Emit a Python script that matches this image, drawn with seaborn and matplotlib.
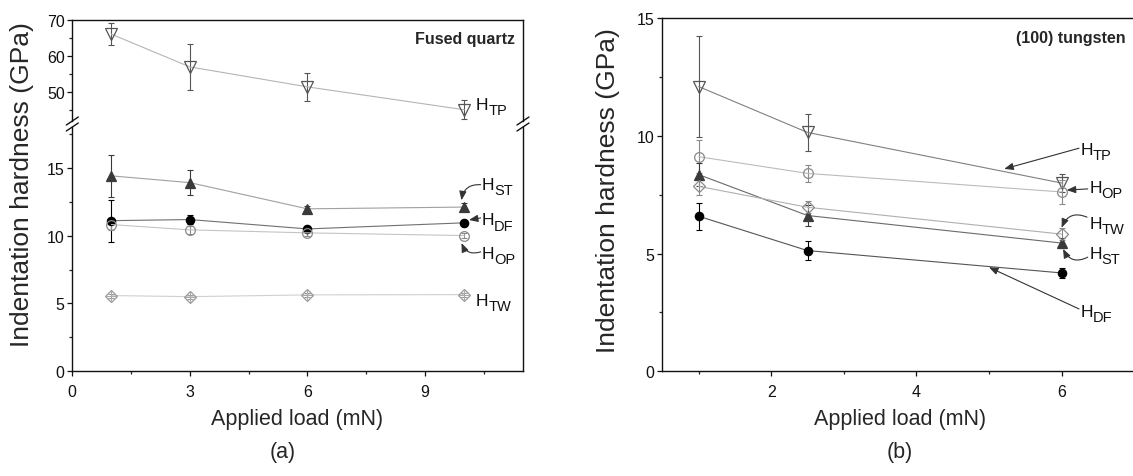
import numpy as np
import pandas as pd
import matplotlib
matplotlib.use("Agg")
import matplotlib.pyplot as plt
from matplotlib.ticker import MultipleLocator
from matplotlib.lines import Line2D
import seaborn as sns

sns.set_theme(style="ticks")
plt.rcParams['font.family'] = ['Liberation Sans', 'DejaVu Sans']
plt.rcParams['axes.linewidth'] = 1.0

# (a) fused quartz
load_a = [1, 3, 6, 10]
htp_a = [66.0, 57.0, 51.5, 45.2]
htp_a_err = [3.0, 6.4, 3.8, 2.6]
hst_a = [14.4, 13.9, 11.97, 12.1]
hst_a_err = [1.55, 0.9, 0.2, 0.3]
hdf_a = [11.1, 11.18, 10.49, 10.94]
hdf_a_err = [1.55, 0.3, 0.2, 0.2]
hop_a = [10.81, 10.42, 10.2, 10.0]
hop_a_err = [0.4, 0.3, 0.2, 0.2]
htw_a = [5.58, 5.5, 5.63, 5.65]
htw_a_err = [0.15, 0.15, 0.15, 0.15]

# (b) (100) tungsten
load_b = [1, 2.5, 6]
htp_b = [12.1, 10.15, 8.0]
htp_b_err = [2.15, 0.8, 0.4]
hop_b = [9.12, 8.41, 7.62]
hop_b_err = [0.7, 0.35, 0.5]
hst_b = [8.36, 6.62, 5.45]
hst_b_err = [0.5, 0.45, 0.2]
htw_b = [7.86, 6.97, 5.83]
htw_b_err = [0.35, 0.25, 0.25]
hdf_b = [6.59, 5.13, 4.18]
hdf_b_err = [0.58, 0.4, 0.22]

W, H = 1133, 477


def box(l, t, r, b):
    # pixel box -> figure fraction
    return [l / W, 1 - b / H, (r - l) / W, (b - t) / H]


def draw(ax, x, y, err, marker, mfc, mec, lc, ms):
    sns.lineplot(x=x, y=y, ax=ax, color=lc, lw=0.8, marker=marker,
                 markersize=ms, markerfacecolor=mfc, markeredgecolor=mec,
                 markeredgewidth=0.9, zorder=3)
    ax.errorbar(x, y, yerr=err, fmt='none', ecolor=mec, elinewidth=0.8,
                capsize=2.2, capthick=0.8, zorder=2)


def style(ax):
    ax.tick_params(which='major', direction='out', length=3.5, width=0.9,
                   labelsize=11.5, pad=2, colors='#111111')
    ax.tick_params(which='minor', direction='out', length=2.2, width=0.9)
    ax.tick_params(axis='x', pad=6)
    for s in ax.spines.values():
        s.set_color('#111111')
    ax.set_xlabel('')
    ax.set_ylabel('')


def hlabel(ax, x, y, sub):
    # H with a large subscript, as in the original figure
    ax.text(x, y, 'H', fontsize=12.5, va='center', ha='left', color='#111111')
    ax.annotate(sub, xy=(x, y), xytext=(8.8, -4.0), textcoords='offset points',
                fontsize=10.5, va='center', ha='left', color='#111111')


fig = plt.figure(figsize=(W / 100, H / 100), dpi=100)

# ---- panel (a) with broken axis
ax_top = fig.add_axes(box(72.3, 20.7, 523, 122))
ax_bot = fig.add_axes(box(72.3, 128, 523, 372.3))

draw(ax_top, load_a, htp_a, htp_a_err, 'v', 'none', '#555555', '#b5b5b5', 8)
draw(ax_bot, load_a, hst_a, hst_a_err, '^', '#3a3a3a', '#3a3a3a', '#a0a0a0', 7)
draw(ax_bot, load_a, hdf_a, hdf_a_err, 'o', '#000000', '#000000', '#707070', 6)
draw(ax_bot, load_a, hop_a, hop_a_err, 'o', 'none', '#8a8a8a', '#c4c4c4', 7)
draw(ax_bot, load_a, htw_a, htw_a_err, 'D', 'none', '#9a9a9a', '#d0d0d0', 6.5)
ax_bot.plot(load_a, htw_a, ls='none', marker='+', ms=8, mew=0.7, color='#a8a8a8', zorder=3)

for ax in (ax_top, ax_bot):
    ax.set_xlim(0, 11.5)
    style(ax)
ax_top.set_ylim(42.1, 70)
ax_bot.set_ylim(0, 18.0)
ax_top.yaxis.set_major_locator(MultipleLocator(10))
ax_top.yaxis.set_minor_locator(MultipleLocator(5))
ax_bot.yaxis.set_major_locator(MultipleLocator(5))
ax_bot.yaxis.set_minor_locator(MultipleLocator(2.5))
ax_bot.xaxis.set_major_locator(MultipleLocator(3))
ax_bot.xaxis.set_minor_locator(MultipleLocator(1.5))
ax_top.spines['bottom'].set_visible(False)
ax_bot.spines['top'].set_visible(False)
ax_top.tick_params(axis='x', which='both', bottom=False, labelbottom=False)

# break marks
for px in (72.3, 523):
    for py in (122, 128):
        fig.add_artist(Line2D([(px - 6) / W, (px + 6) / W],
                              [1 - (py + 4) / H, 1 - (py - 4) / H],
                              color='#111111', lw=1.0))

ax_top.text(0.982, 0.81, 'Fused quartz', transform=ax_top.transAxes,
            ha='right', va='center', fontsize=11.5, fontweight='bold')

arw = dict(arrowstyle='-|>,head_length=0.45,head_width=0.18', color='#333333',
           lw=0.8, shrinkA=0, shrinkB=0)
hlabel(ax_top, 10.3, 46.6, 'TP')
hlabel(ax_bot, 10.45, 13.75, 'ST')
hlabel(ax_bot, 10.45, 11.15, 'DF')
hlabel(ax_bot, 10.45, 8.7, 'OP')
hlabel(ax_bot, 10.3, 5.25, 'TW')
ax_bot.annotate('', xy=(9.93, 12.6), xytext=(10.42, 13.75),
                arrowprops=dict(connectionstyle='arc3,rad=0.45', **arw))
ax_bot.annotate('', xy=(10.12, 11.15), xytext=(10.42, 11.3),
                arrowprops=dict(connectionstyle='arc3,rad=0', **arw))
ax_bot.annotate('', xy=(9.93, 9.45), xytext=(10.42, 8.8),
                arrowprops=dict(connectionstyle='arc3,rad=-0.45', **arw))

fig.text(22 / W, 1 - 185 / H, 'Indentation hardness (GPa)', rotation=90,
         ha='center', va='center', fontsize=19)
fig.text(297 / W, 1 - 420 / H, 'Applied load (mN)', ha='center', va='center', fontsize=15.5)
fig.text(283 / W, 1 - 453 / H, '(a)', ha='center', va='center', fontsize=15.5)

# ---- panel (b)
axb = fig.add_axes(box(662.3, 19.3, 1134.2, 372.3))
draw(axb, load_b, htp_b, htp_b_err, 'v', 'none', '#555555', '#808080', 8)
draw(axb, load_b, hop_b, hop_b_err, 'o', 'none', '#8a8a8a', '#bcbcbc', 7)
draw(axb, load_b, hst_b, hst_b_err, '^', '#3a3a3a', '#3a3a3a', '#6a6a6a', 7)
draw(axb, load_b, htw_b, htw_b_err, 'D', 'none', '#8a8a8a', '#b0b0b0', 6.5)
draw(axb, load_b, hdf_b, hdf_b_err, 'o', '#000000', '#000000', '#555555', 6)
axb.set_xlim(0.5, 7)
axb.set_ylim(0, 15)
style(axb)
axb.xaxis.set_major_locator(MultipleLocator(2))
axb.xaxis.set_minor_locator(MultipleLocator(1))
axb.yaxis.set_major_locator(MultipleLocator(5))
axb.yaxis.set_minor_locator(MultipleLocator(2.5))

axb.text(0.9826, 0.946, '(100) tungsten', transform=axb.transAxes,
         ha='right', va='center', fontsize=11.5, fontweight='bold')
hlabel(axb, 6.26, 9.42, 'TP')
hlabel(axb, 6.38, 7.8, 'OP')
hlabel(axb, 6.38, 6.3, 'TW')
hlabel(axb, 6.38, 5.02, 'ST')
hlabel(axb, 6.26, 2.55, 'DF')
axb.annotate('', xy=(5.21, 8.6), xytext=(6.24, 9.48),
             arrowprops=dict(connectionstyle='arc3,rad=0', **arw))
axb.annotate('', xy=(6.07, 7.7), xytext=(6.36, 7.75),
             arrowprops=dict(connectionstyle='arc3,rad=0', **arw))
axb.annotate('', xy=(6.0, 6.1), xytext=(6.35, 6.55),
             arrowprops=dict(connectionstyle='arc3,rad=0.5', **arw))
axb.annotate('', xy=(6.02, 5.2), xytext=(6.36, 4.85),
             arrowprops=dict(connectionstyle='arc3,rad=-0.5', **arw))
axb.annotate('', xy=(5.0, 4.42), xytext=(6.24, 2.65),
             arrowprops=dict(connectionstyle='arc3,rad=0', **arw))

fig.text(608 / W, 1 - 191 / H, 'Indentation hardness (GPa)', rotation=90,
         ha='center', va='center', fontsize=19)
fig.text(900 / W, 1 - 420 / H, 'Applied load (mN)', ha='center', va='center', fontsize=15.5)
fig.text(900 / W, 1 - 453 / H, '(b)', ha='center', va='center', fontsize=15.5)

fig.savefig('out.png', dpi=100)
